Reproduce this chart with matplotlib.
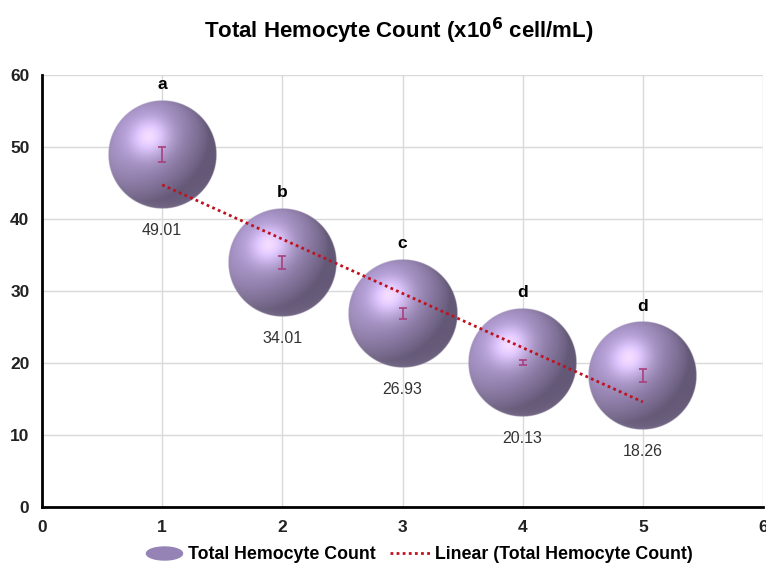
import numpy as np
import matplotlib.pyplot as plt
from matplotlib.path import Path
from matplotlib.lines import Line2D
from matplotlib import font_manager

plt.rcParams['font.family'] = ['Liberation Sans', 'DejaVu Sans']

# data
x = [1, 2, 3, 4, 5]
thc = [49.01, 34.01, 26.93, 20.13, 18.26]
err = [1.05, 0.9, 0.75, 0.35, 0.85]
letters = ['a', 'b', 'c', 'd', 'd']
value_labels = ['49.01', '34.01', '26.93', '20.13', '18.26']

names = {f.name for f in font_manager.fontManager.ttflist}
tick_family = 'Liberation Sans Narrow' if 'Liberation Sans Narrow' in names else 'Liberation Sans'

fig = plt.figure(figsize=(7.66, 5.65), dpi=100)
ax = fig.add_axes([42 / 766, 58 / 565, 721 / 766, 432 / 565])
ax.set_xlim(0, 6)
ax.set_ylim(0, 60)


def sphere_img(n=260):
    t = np.linspace(-1, 1, n)
    u, v = np.meshgrid(t, -t)
    r2 = u ** 2 + v ** 2
    z = np.sqrt(np.clip(1 - r2, 0, 1))
    L = np.array([-0.5, 0.5, 0.7])
    L = L / np.linalg.norm(L)
    diff = np.clip(u * L[0] + v * L[1] + z * L[2], 0, 1)
    H = np.array([-0.23, 0.32, 0.92])
    H = H / np.linalg.norm(H)
    spec = np.clip(u * H[0] + v * H[1] + z * H[2], 0, 1) ** 14
    rim = np.clip(1 - z, 0, 1) ** 2 * np.clip(-v - u * 0.3, 0, 1)
    base = np.array([172, 152, 204]) / 255.0
    hl = np.array([1.0, 0.93, 0.97])
    img = np.zeros((n, n, 4))
    shade = 0.58 + 0.46 * diff
    for c in range(3):
        img[..., c] = base[c] * shade + 0.28 * spec * hl[c] + 0.10 * rim
    img[..., :3] = np.clip(img[..., :3], 0, 1)
    edge = np.clip((1 - np.sqrt(r2)) * n / 3, 0, 1)
    img[..., 3] = edge
    return img


img = sphere_img()
r_px = 54.5
p0 = ax.transData.transform((0, 0))
p1 = ax.transData.transform((1, 1))
rx = r_px / (p1[0] - p0[0])
ry = r_px / (p1[1] - p0[1])

for xi, yi in zip(x, thc):
    ax.imshow(img, extent=[xi - rx, xi + rx, yi - ry, yi + ry],
              aspect='auto', interpolation='bilinear', zorder=2)

ax.errorbar(x, thc, yerr=err, fmt='none', ecolor='#a8407e', elinewidth=1.2,
            capsize=3, capthick=1.2, zorder=4)

coef = np.polyfit(x, thc, 1)
xt = np.array([x[0], x[-1]])
ax.plot(xt, np.polyval(coef, xt), color='#c0121e', linestyle=(0, (1, 1.2)),
        linewidth=2, zorder=3)

for xi, yi, lt, vl in zip(x, thc, letters, value_labels):
    ax.annotate(lt, (xi, yi), xytext=(0, 50), textcoords='offset points',
                ha='center', va='center', fontsize=12.5, fontweight='bold')
    ax.annotate(vl, (xi, yi), xytext=(0, -55), textcoords='offset points',
                ha='center', va='center', fontsize=11.5, color='#333333')

ax.set_xlim(0, 6)
ax.set_ylim(0, 60)
ax.set_xticks(range(0, 7))
ax.set_yticks(range(0, 61, 10))
ax.grid(True, color='#d9d9d9', linewidth=1)
ax.set_axisbelow(True)
for s in ['top', 'right']:
    ax.spines[s].set_visible(False)
for s in ['left', 'bottom']:
    ax.spines[s].set_linewidth(2)
ax.tick_params(length=0, labelsize=12.5, pad=9)
for lab in ax.get_xticklabels() + ax.get_yticklabels():
    lab.set_fontweight('bold')
    lab.set_family(tick_family)
    lab.set_color('#222222')

fig.text(0.521, 0.945, 'Total Hemocyte Count (x10$^{\\mathbf{6}}$ cell/mL)',
         ha='center', va='center', fontsize=16, fontweight='bold')

ell = Path(np.column_stack([np.cos(np.linspace(0, 2 * np.pi, 60)),
                            0.36 * np.sin(np.linspace(0, 2 * np.pi, 60))]))
h1 = Line2D([], [], linestyle='none', marker=ell, markersize=26,
            markerfacecolor='#9583b5', markeredgecolor='#9583b5')
h2 = Line2D([], [], color='#c0121e', linestyle=(0, (1, 1.2)), linewidth=2)
leg = fig.legend([h1, h2], ['Total Hemocyte Count', 'Linear (Total Hemocyte Count)'],
                 loc='center', bbox_to_anchor=(0.545, 0.018), ncol=2, frameon=False,
                 handlelength=2.4, handletextpad=0.15, columnspacing=0.8,
                 prop={'size': 12.8, 'weight': 'bold'})

fig.savefig('out.png', dpi=100)
